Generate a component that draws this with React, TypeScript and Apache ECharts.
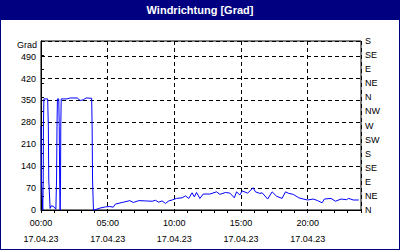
import { useEffect, useRef } from 'react';
import * as echarts from 'echarts';

// Early part (minutes after 00:00 and wind direction in degrees)
const earlyMinutes = [0, 2, 8, 10, 11, 13, 30, 33, 35, 41, 45, 56, 63, 67, 70, 72, 74, 80, 82, 84, 86, 88, 89, 91, 117, 131, 163, 176, 190, 203, 228, 230, 232, 236];
const earlyValues = [268, 96, 0, 96, 268, 355, 355, 268, 96, 5, 13, 12, 5, 3, 96, 268, 355, 355, 268, 96, 0, 96, 268, 355, 355, 358, 358, 350, 352, 358, 357, 268, 96, 0];

// Later part
const lateMinutes = [240, 265, 290, 310, 325, 335, 365, 400, 415, 440, 470, 500, 515, 530, 545, 560, 575, 590, 610, 635, 650, 665, 680, 690, 700, 715, 730, 760, 790, 805, 830, 850, 870, 880, 895, 905, 930, 955, 965, 985, 995, 1020, 1040, 1060, 1085, 1100, 1115, 1135, 1160, 1180, 1200, 1225, 1245, 1265, 1275, 1305, 1325, 1350, 1375, 1385, 1405, 1430];
const lateValues = [0, 6, 10, 11, 9, 19, 24, 30, 24, 30, 29, 28, 31, 25, 29, 21, 29, 32, 37, 39, 45, 37, 55, 42, 56, 37, 51, 51, 58, 50, 56, 54, 39, 58, 48, 61, 54, 71, 58, 53, 55, 35, 58, 44, 37, 58, 53, 50, 39, 35, 32, 35, 30, 23, 35, 37, 28, 35, 33, 37, 32, 32];

const directionLabels = ['N', 'NE', 'E', 'SE', 'S', 'SW', 'W', 'NW', 'N', 'NE', 'E', 'SE', 'S'];
const dateLabel = '17.04.23';
const chartTitle = 'Windrichtung [Grad]';
const unitLabel = 'Grad';

const FONT = '"Liberation Sans", Arial, sans-serif';

export default function App() {
  const ref = useRef<HTMLDivElement>(null);
  useEffect(() => {
    document.body.style.margin = '0';
    const chart = echarts.init(ref.current!, null, { renderer: 'svg' });
    const data = [
      ...earlyMinutes.map((m, i) => [m, earlyValues[i]]),
      ...lateMinutes.map((m, i) => [m, lateValues[i]]),
    ];
    const pad = (n: number) => (n < 10 ? '0' + n : String(n));
    chart.setOption({
      animation: false,
      backgroundColor: '#ffffff',
      textStyle: { fontFamily: FONT },
      grid: {
        left: 41, right: 39, top: 41, bottom: 40,
        show: true, borderColor: '#000', borderWidth: 1, backgroundColor: 'transparent',
      },
      graphic: [
        { type: 'rect', shape: { x: 0, y: 0, width: 400, height: 20 }, style: { fill: '#000080' } },
        {
          type: 'text', x: 200, y: 10,
          style: { text: chartTitle, fill: '#ffffff', font: `bold 11px ${FONT}`, align: 'center', verticalAlign: 'middle' },
        },
        {
          type: 'text', x: 37, y: 45,
          style: { text: unitLabel, fill: '#000', font: `9px ${FONT}`, align: 'right', verticalAlign: 'middle' },
        },
        { type: 'rect', shape: { x: 0, y: 0, width: 400, height: 250 }, style: { fill: 'none', stroke: '#000080', lineWidth: 2 } },
      ],
      xAxis: [
        {
          type: 'value', min: 0, max: 1440, interval: 60, position: 'bottom',
          axisLine: { show: true, lineStyle: { color: '#000', width: 1 } },
          axisTick: { show: true, length: 3, lineStyle: { color: '#000' } },
          axisLabel: { show: false },
          splitLine: { show: false },
        },
        {
          type: 'value', min: 0, max: 1440, interval: 300, position: 'bottom',
          axisLine: { show: false }, axisTick: { show: false },
          axisLabel: {
            color: '#000', fontSize: 9, lineHeight: 16, margin: 5, fontFamily: FONT,
            formatter: (v: number) => (v >= 1440 ? '' : `${pad(Math.round(v / 60))}:00\n${dateLabel}`),
          },
          splitLine: { show: true, lineStyle: { color: '#000', type: [4, 3], width: 1 } },
        },
      ],
      yAxis: [
        {
          type: 'value', min: 0, max: 540, interval: 70, position: 'left',
          axisLine: { show: true, lineStyle: { color: '#000', width: 1 } },
          axisTick: { show: false },
          axisLabel: {
            color: '#000', fontSize: 9, margin: 5, fontFamily: FONT,
            formatter: (v: number) => (v >= 540 ? '' : String(v)),
          },
          splitLine: { show: true, lineStyle: { color: '#000', type: [4, 3], width: 1 } },
        },
        {
          type: 'value', min: 0, max: 540, interval: 45, position: 'right',
          axisLine: { show: true, lineStyle: { color: '#000', width: 1 } },
          axisTick: { show: true, length: 3, lineStyle: { color: '#000' } },
          axisLabel: {
            color: '#000', fontSize: 9, margin: 4, fontFamily: FONT,
            formatter: (v: number) => directionLabels[Math.round(v / 45)] ?? '',
          },
          splitLine: { show: false },
        },
      ],
      series: [
        {
          type: 'line', xAxisIndex: 0, yAxisIndex: 0, data,
          showSymbol: false, symbol: 'none',
          lineStyle: { color: '#0000ff', width: 1 },
          itemStyle: { color: '#0000ff' },
        },
      ],
    });
    return () => chart.dispose();
  }, []);
  return <div ref={ref} style={{ width: 400, height: 250 }} />;
}
